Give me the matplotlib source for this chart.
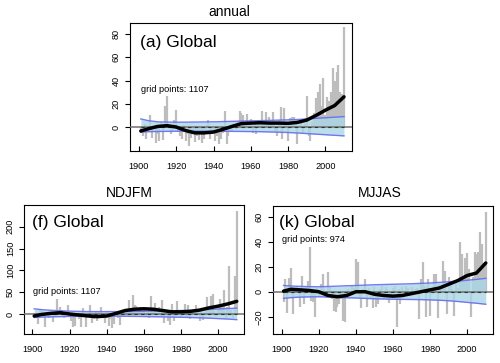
import numpy as np
import matplotlib
matplotlib.use('Agg')
import matplotlib.pyplot as plt

plt.rcParams['font.family'] = ['Liberation Sans', 'DejaVu Sans']

years = list(range(1901, 2011))

# annual, panel (a)
annual = [-5, -8, 3, -10, -4, 10, -9, 2, -14, -6,
          -12, 4, -11, 18, 27, 2, -6, -3, 6, 15,
          -4, -8, -10, 2, -12, -6, -16, -9, -3, -13,
          -8, -11, -5, -14, -10, -3, 6, -10, -6, -4,
          -12, -8, -15, -10, -5, 14, -15, -8, -4, -3,
          3, -2, 5, 14, 12, 10, 4, 11, 2, 7,
          -5, 3, -6, 5, 2, 14, 4, 13, 2, 9,
          4, 13, -3, -8, 6, 17, -10, 16, 4, -12,
          8, 9, 9, 3, -15, 2, 5, -6, 3, 27,
          -8, -12, 4, 12, 25, 30, 37, 18, 42, 10,
          26, 22, 30, 51, 40, 47, 53, 30, 28, 86]

# NDJFM, panel (f)
ndjfm = [3, -5, -22, 12, 8, -8, -30, 5, -10, 3,
         -18, -5, 35, 8, 15, 10, -10, -3, 20, 5,
         -15, -30, -28, 3, -12, -30, 14, -5, -30, -8,
         20, -20, -12, 8, -15, 5, 16, -10, -20, 8,
         -28, -12, -32, -22, 4, -10, -25, 6, -5, -2,
         8, 33, 10, 43, 20, 18, 12, 15, 6, 12,
         -8, 5, -10, 42, 10, 25, 3, 15, -5, 31,
         -20, 8, -15, -25, 24, -15, 5, 30, 8, -10,
         4, 23, -8, 20, -12, 8, 3, 20, 6, -15,
         10, -14, 5, 40, 15, 42, 45, 8, -5, 12,
         35, 20, 55, -12, 15, 110, 10, -10, 88, 235]

# MJJAS, panel (k)
mjjas = [-8, 10, -17, 11, 19, -18, 2, 5, 3, -12,
         13, -10, 4, 9, 36, -7, -8, -20, 3, -4,
         6, 14, 2, -5, 16, 4, -6, -15, -16, -12,
         -10, -6, -23, -24, -4, 2, -3, 5, 3, 26,
         24, -4, -13, 2, 10, -12, 3, -6, -13, 4,
         -12, -10, 2, 5, -3, 4, 2, -9, -2, 3,
         5, -28, 2, -10, 4, -2, 5, 3, -3, 4,
         -1, 2, 3, -22, 10, 24, 5, -20, 10, -19,
         3, 14, 14, -21, 6, 2, 25, 17, -18, 12,
         6, 2, -19, 8, 3, 40, 30, 10, 27, 31,
         18, -20, 12, 32, 30, 32, 48, 38, 20, 64]

# smooth curve and band, read every 5 years
curve_years = [1901, 1905, 1910, 1915, 1920, 1925, 1930, 1935, 1940, 1945, 1950, 1955,
               1960, 1965, 1970, 1975, 1980, 1985, 1990, 1995, 2000, 2005, 2010]

annual_curve = [-3.4, -1.5, 0.5, 1.2, 0, -3, -5, -5, -4.3, -2, 0.6, 3,
                3.4, 3.7, 3.4, 3.4, 3.2, 4, 6, 10, 14.5, 18.5, 26]
annual_hi = [7, 5.5, 4.5, 4.3, 4.2, 4.2, 4.3, 4.4, 4.5, 4.7, 4.9, 5.1,
             5.3, 5.5, 5.7, 6, 6.2, 6.5, 7, 7.5, 8, 8.5, 9]
annual_lo = [-4.3, -4, -3.8, -3.7, -3.6, -3.5, -3.5, -3.5, -3.5, -3.6, -3.7, -3.8,
             -3.9, -4, -4.2, -4.4, -4.7, -5.1, -5.6, -6.1, -6.6, -7.1, -7.6]

ndjfm_curve = [-4.6, -1, 1.5, 3, 0, -2.3, -4.6, -6, -4.6, 1.5, 8, 11,
               12, 11, 8, 5, 5, 6, 9, 14, 18, 23, 29]
ndjfm_hi = [12, 10, 8.5, 7.5, 6.5, 6, 5.5, 5.5, 5.5, 5.5, 5.7, 6,
            6.3, 6.7, 7, 7.5, 8, 8.5, 9.5, 10.5, 11.5, 12.5, 13.5]
ndjfm_lo = [-8, -7, -6.5, -6, -5.5, -5.3, -5, -5, -5, -5, -5.2, -5.5,
            -5.8, -6.2, -6.6, -7, -7.5, -8, -8.7, -9.5, -10.5, -11.5, -13]

mjjas_curve = [0.5, 2, 1.5, 1, 0, -3, -4, -3, 0, 0, -2, -3,
               -3.5, -3, -1.5, 0, 1.5, 3, 6, 9, 13, 15, 23]
mjjas_hi = [5, 4.6, 4.3, 4.1, 4, 4.2, 4.5, 4.8, 5, 5.3, 5.6, 5.8,
            6, 6.2, 6.4, 6.7, 7, 7.5, 8, 8.5, 9.2, 9.9, 10.7]
mjjas_lo = [-5.3, -4.7, -4.3, -4.1, -4, -4.2, -4.5, -4.8, -5, -5.3, -5.6, -5.8,
            -6, -6.1, -6.2, -6.3, -6.5, -6.8, -7.2, -7.8, -8.5, -9.2, -10]

fig = plt.figure(figsize=(5.0, 3.63), dpi=100)

H = 363.0
W = 500.0


def make_panel(rect, vals, cv, hi, lo, xlim, ylim, yticks, label, npts, tx, ty, gx, gy):
    l, t, r, b = rect
    ax = fig.add_axes([l / W, 1 - b / H, (r - l) / W, (b - t) / H])
    ax.vlines(years, 0, vals, color='#bdbdbd', lw=1.6, zorder=1)
    ax.fill_between(curve_years, lo, hi, color='#a9d7e6', alpha=0.8, lw=0, zorder=2)
    ax.plot(curve_years, hi, color='#6a6af2', lw=1.0, alpha=0.9, zorder=3)
    ax.plot(curve_years, lo, color='#6a6af2', lw=1.0, alpha=0.9, zorder=3)
    ax.axhline(0, color='#707070', lw=1.1, zorder=3)
    ax.plot([1901, 2010], [0, 0], color='#333333', lw=0.8, ls=(0, (3, 3)), zorder=4)
    ax.plot(curve_years, cv, color='black', lw=2.5, zorder=5, solid_capstyle='round')
    ax.set_xlim(*xlim)
    ax.set_ylim(*ylim)
    ax.set_xticks([1900, 1920, 1940, 1960, 1980, 2000])
    ax.set_yticks(yticks)
    ax.tick_params(axis='x', direction='in', length=3.5, width=0.8, labelsize=6.6, pad=8)
    ax.tick_params(axis='y', direction='out', length=3.5, width=0.8, labelsize=6.6, pad=3,
                   labelrotation=90)
    for lab in ax.get_yticklabels():
        lab.set_va('center')
    for sp in ax.spines.values():
        sp.set_linewidth(0.8)
    fig.text(tx / W, 1 - ty / H, label, fontsize=12.5, va='center', ha='left')
    fig.text(gx / W, 1 - gy / H, 'grid points: ' + npts, fontsize=6.6, va='center', ha='left')
    return ax


make_panel((130, 23, 352, 151), annual, annual_curve, annual_hi, annual_lo,
           (1895.2, 2014.3), (-20.6, 89.5), [0, 20, 40, 60, 80],
           '(a) Global', '1107', 140, 42.5, 141, 89)
make_panel((24, 205, 244, 334), ndjfm, ndjfm_curve, ndjfm_hi, ndjfm_lo,
           (1895.5, 2013.9), (-45.8, 249.7), [0, 50, 100, 150, 200],
           '(f) Global', '1107', 32.5, 223, 33, 291)
make_panel((273, 206, 493, 334), mjjas, mjjas_curve, mjjas_hi, mjjas_lo,
           (1895.3, 2013.9), (-33.8, 68.6), [-20, 0, 20, 40, 60],
           '(k) Global', '974', 279, 223, 282, 239.5)

fig.text(229.5 / W, 1 - 12 / H, 'annual', fontsize=10, ha='center', va='center')
fig.text(129 / W, 1 - 193 / H, 'NDJFM', fontsize=10, ha='center', va='center')
fig.text(380 / W, 1 - 193 / H, 'MJJAS', fontsize=10, ha='center', va='center')

fig.savefig('out.png', dpi=100)
